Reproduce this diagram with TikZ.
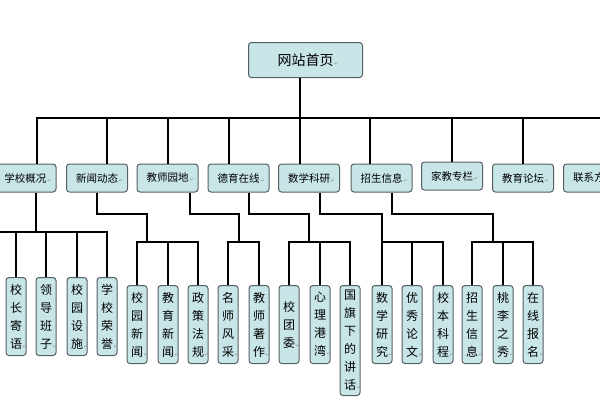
\documentclass[tikz,border=0pt]{standalone}
\usepackage{fontspec}
\usepackage{tikz}
\usetikzlibrary{positioning}
\newfontfamily\cjk{Noto Sans CJK SC}
\newfontfamily\mkfont{DejaVu Sans}
\definecolor{boxcyan}{RGB}{200,229,232}
\definecolor{boxedge}{RGB}{85,95,98}
\newcommand{\pmark}{\rlap{\mkfont\fontsize{5}{5}\selectfont\color{black!45}\,↵}}

\begin{document}
\begin{tikzpicture}[x=1pt,y=-1pt]
\tikzset{link/.style={draw=black,line width=2.2pt},
  card/.style={draw=boxedge,fill=boxcyan,line width=1pt,rounded corners=3pt,inner sep=0pt},
  homebox/.style={card,minimum width=114pt,minimum height=35pt,font=\cjk\fontsize{14}{16}\selectfont},
  topic/.style={card,minimum width=61pt,minimum height=28pt,font=\cjk\fontsize{10.5}{12}\selectfont},
  leaf/.style={card,anchor=north,minimum width=20pt,minimum height=78pt,align=center,font=\cjk\fontsize{12}{18}\selectfont}}
\useasboundingbox (0,0) rectangle (600,400);
\clip (0,0) rectangle (600,400);
% root and first level
\node[homebox] (home) at (305.5,60) {网站首页\pmark};
\node[topic] (xxgk) at (25.5,178) {学校概况\pmark};
\node[topic] (xwdt) at (97,178) {新闻动态\pmark};
\node[topic] (jsyd) at (167.5,178) {教师园地\pmark};
\node[topic] (dyzx) at (238.5,178) {德育在线\pmark};
\node[topic] (sxky) at (309,178) {数学科研\pmark};
\node[topic] (zsxx) at (381.5,178) {招生信息\pmark};
\node[topic] (jjzl) at (452,176) {家教专栏\pmark};
\node[topic] (jylt) at (523,178) {教育论坛\pmark};
\node[topic] (lxfs) at (594,178) {联系方式\pmark};
\coordinate (hub) at (300,118);
\draw[link] ([xshift=-5.5pt]home.south) -- (hub);
\foreach \n/\dx in {xxgk/11.5,xwdt/10,jsyd/0.5,dyzx/-9.5,sxky/-9,zsxx/-11.5,jjzl/0,jylt/0}
  \draw[link] (hub) -| ([xshift=\dx pt]\n.north);
\draw[link] (hub) -- (610,118);
% second level
\node[leaf] (xzjy) at (16,277) {校\\长\\寄\\语\pmark};
\node[leaf] (ldbz) at (46,277) {领\\导\\班\\子\pmark};
\node[leaf] (xyss) at (77,277) {校\\园\\设\\施\pmark};
\node[leaf] (xxry) at (107,277) {学\\校\\荣\\誉\pmark};
\node[leaf] (xyxw) at (137,285) {校\\园\\新\\闻\pmark};
\node[leaf] (jyxw) at (168,285) {教\\育\\新\\闻\pmark};
\node[leaf] (zcfg) at (198,285) {政\\策\\法\\规\pmark};
\node[leaf] (msfc) at (228,285) {名\\师\\风\\采\pmark};
\node[leaf] (jszz) at (259,285) {教\\师\\著\\作\pmark};
\node[leaf] (xtw) at (289,285) {校\\团\\委\pmark};
\node[leaf] (xlgw) at (320,285) {心\\理\\港\\湾\pmark};
\node[leaf,minimum height=110pt] (gqjh) at (350,285) {国\\旗\\下\\的\\讲\\话\pmark};
\node[leaf] (sxyj) at (382,285) {数\\学\\研\\究\pmark};
\node[leaf] (yxlw) at (412,285) {优\\秀\\论\\文\pmark};
\node[leaf] (xbkc) at (443,285) {校\\本\\科\\程\pmark};
\node[leaf] (zsxx2) at (472,285) {招\\生\\信\\息\pmark};
\node[leaf] (tlzx) at (503,285) {桃\\李\\之\\秀\pmark};
\node[leaf] (zxbm) at (533,285) {在\\线\\报\\名\pmark};
\coordinate (gkj) at (36,232);
\draw[link] ([xshift=10.5pt]xxgk.south) -- (gkj);
\draw[link] (gkj) -- (-20,232);
\foreach \c in {xzjy,ldbz,xyss,xxry} \draw[link] (gkj) -| (\c.north);
\coordinate (xwj) at (147,242);
\draw[link] (xwdt.south) |- (147,214) -- (xwj);
\foreach \c in {xyxw,jyxw,zcfg} \draw[link] (xwj) -| (\c.north);
\coordinate (ydj) at (239,242);
\draw[link] ([xshift=22.5pt]jsyd.south) |- (239,214) -- (ydj);
\foreach \c in {msfc,jszz} \draw[link] (ydj) -| (\c.north);
\coordinate (dyj) at (309,242);
\draw[link] ([xshift=10.5pt]dyzx.south) |- (309,214) -- (dyj);
\foreach \c in {xtw,xlgw,gqjh} \draw[link] (dyj) -| (\c.north);
\coordinate (kyj) at (382,242);
\draw[link] ([xshift=11pt]sxky.south) |- (382,214) -- (kyj);
\foreach \c in {sxyj,yxlw,xbkc} \draw[link] (kyj) -| (\c.north);
\coordinate (zsj) at (493,242);
\draw[link] ([xshift=10.5pt]zsxx.south) |- (493,214) -- (zsj);
\foreach \c in {zsxx2,tlzx,zxbm} \draw[link] (zsj) -| (\c.north);
\end{tikzpicture}
\end{document}
